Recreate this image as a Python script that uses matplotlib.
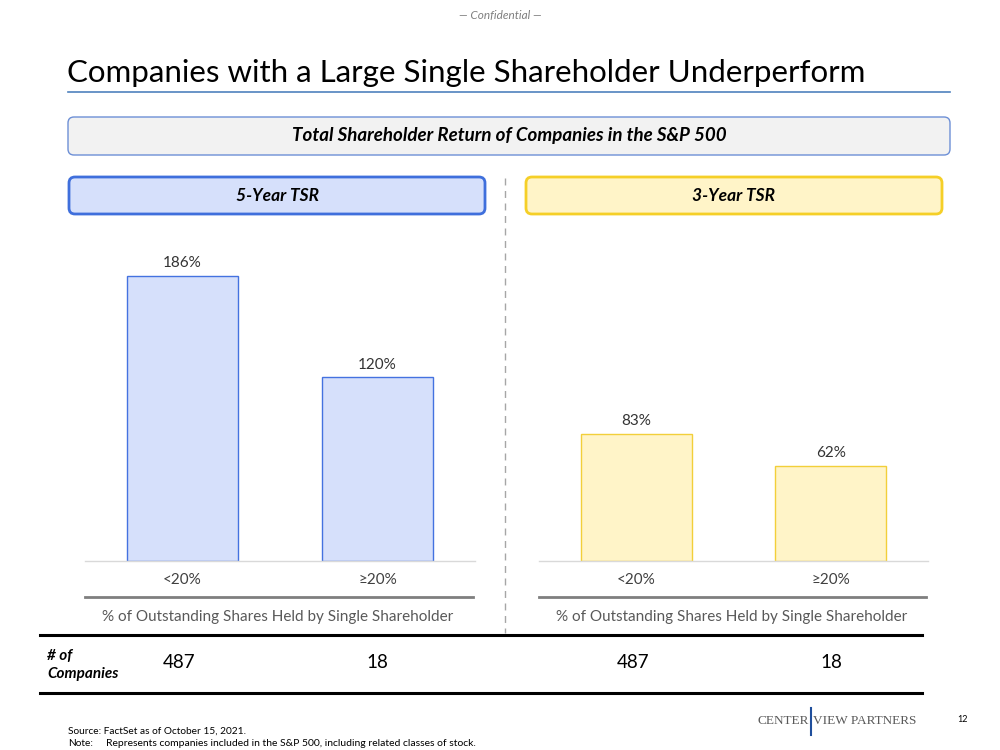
import matplotlib.pyplot as plt
from matplotlib.patches import FancyBboxPatch

plt.rcParams['font.family'] = ['Lato', 'DejaVu Sans']

# data
categories = ["<20%", "\u226520%"]
tsr_5yr = [186, 120]
tsr_3yr = [83, 62]
num_companies = [487, 18, 487, 18]
panel_titles = ["5-Year TSR", "3-Year TSR"]

W, H = 1000, 750
fig = plt.figure(figsize=(10, 7.5), dpi=100)

# full-figure layer in pixel coordinates for the slide decorations
bg = fig.add_axes([0, 0, 1, 1])
bg.set_xlim(0, W)
bg.set_ylim(H, 0)
bg.axis("off")


def box(x0, y0, x1, y1, face, edge, lw):
    p = FancyBboxPatch((x0, y0), x1 - x0, y1 - y0,
                       boxstyle="round,pad=0,rounding_size=6",
                       facecolor=face, edgecolor=edge, linewidth=lw)
    bg.add_patch(p)


bg.text(500, 15, "\u2014 Confidential \u2014", ha="center", va="center",
        fontsize=8.5, style="italic", color="#7f7f7f")
bg.text(67, 73, "Companies with a Large Single Shareholder Underperform",
        ha="left", va="center", fontsize=22.5, color="#000000")
bg.plot([68, 950], [92, 92], color="#4f81bd", lw=1.2)

box(68, 117, 950, 155, "#f2f2f2", "#6d8fd6", 1.0)
bg.text(509, 136, "Total Shareholder Return of Companies in the S&P 500",
        ha="center", va="center", fontsize=13.5, weight="bold",
        style="italic", color="#000000")

box(69, 177, 485, 214, "#d6e0fb", "#3f6fdc", 2.0)
box(526, 177, 942, 214, "#fff4c8", "#f5cf27", 2.0)
bg.text(277, 196, panel_titles[0], ha="center", va="center", fontsize=12.5,
        weight="bold", style="italic")
bg.text(734, 196, panel_titles[1], ha="center", va="center", fontsize=12.5,
        weight="bold", style="italic")

# dashed divider
bg.plot([505, 505], [178, 633], color="#a6a6a6", lw=1.0, ls=(0, (5, 4)))

# bar panels
px = 1.532  # pixels per percentage point
baseline = 561
top = 240
panels = [
    (85, 475, tsr_5yr, "#d6e0fb", "#4472e0"),
    (539, 928, tsr_3yr, "#fff4c8", "#f2cf3a"),
]
for x0, x1, vals, face, edge in panels:
    ax = fig.add_axes([x0 / W, 1 - baseline / H, (x1 - x0) / W,
                       (baseline - top) / H])
    bars = ax.bar(range(len(categories)), vals, width=0.57, color=face,
                  edgecolor=edge, linewidth=1.0, zorder=2)
    ax.set_xlim(-0.5, len(categories) - 0.5)
    ax.set_ylim(0, (baseline - top) / px)
    for b, v in zip(bars, vals):
        ax.annotate(f"{v}%", (b.get_x() + b.get_width() / 2, v),
                    xytext=(0, 4), textcoords="offset points",
                    ha="center", va="bottom", fontsize=11, color="#333333")
    ax.set_xticks(range(len(categories)))
    ax.set_xticklabels(categories, fontsize=11, color="#404040")
    ax.tick_params(axis="x", length=0, pad=9)
    ax.set_yticks([])
    for s in ["top", "left", "right"]:
        ax.spines[s].set_visible(False)
    ax.spines["bottom"].set_color("#d9d9d9")
    ax.spines["bottom"].set_linewidth(1.0)
    ax.patch.set_alpha(0)
    bg.plot([x0, x1 - 2], [597, 597], color="#7f7f7f", lw=2.0)
    bg.text((x0 + x1) / 2 - 2, 617,
            "% of Outstanding Shares Held by Single Shareholder",
            ha="center", va="center", fontsize=11, color="#595959")

# company count row
bg.plot([40, 922], [635, 635], color="#000000", lw=2.2)
bg.plot([40, 922], [693, 693], color="#000000", lw=2.2)
bg.text(47, 665, "# of\nCompanies", ha="left", va="center", fontsize=11,
        weight="bold", style="italic", linespacing=1.35)
count_x = [179, 377, 633, 831]
for cx, n in zip(count_x, num_companies):
    bg.text(cx, 663, str(n), ha="center", va="center", fontsize=13.5)

# footer
bg.text(68, 731, "Source: FactSet as of October 15, 2021.", ha="left",
        va="center", fontsize=7.3, color="#000000")
bg.text(68, 744, "Note:", ha="left", va="center", fontsize=7.3,
        color="#000000")
bg.text(106, 744, "Represents companies included in the S&P 500, "
        "including related classes of stock.", ha="left", va="center",
        fontsize=7.5, color="#000000")
bg.text(809, 721, "CENTER", ha="right", va="center", fontsize=9.5,
        family="Liberation Serif", color="#595959")
bg.plot([811, 811], [708, 735], color="#1f4e9c", lw=1.5)
bg.text(813, 721, "VIEW PARTNERS", ha="left", va="center", fontsize=9.5,
        family="Liberation Serif", color="#595959")
bg.text(963, 719, "12", ha="center", va="center", fontsize=6.5)

fig.savefig("out.png", dpi=100)
